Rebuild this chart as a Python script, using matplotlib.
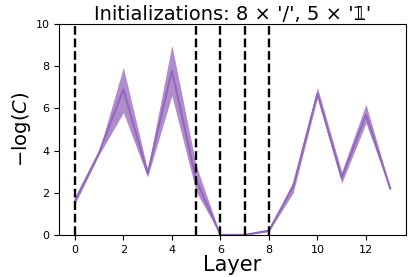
import matplotlib
matplotlib.use("Agg")
import matplotlib.pyplot as plt
import numpy as np

layers = np.arange(14)
mean_vals = [1.6, 3.9, 6.9, 2.9, 7.8, 2.6, 0.0, 0.0, 0.2, 2.3, 6.7, 2.7, 5.7, 2.2]
low_vals = [1.45, 3.8, 5.8, 2.75, 6.6, 2.05, 0.0, 0.0, 0.15, 2.0, 6.5, 2.45, 5.3, 2.15]
high_vals = [1.8, 4.0, 7.95, 3.1, 9.0, 3.3, 0.0, 0.0, 0.25, 2.55, 7.0, 3.0, 6.2, 2.25]
marked_layers = [0, 5, 6, 7, 8]

fig, ax = plt.subplots(figsize=(4.16, 2.77), dpi=100)

ax.fill_between(layers, low_vals, high_vals, color='#9467bd', alpha=0.75, linewidth=0)
ax.plot(layers, mean_vals, color='#9467bd', lw=1.5)
for l in marked_layers:
    ax.axvline(l, color='k', ls='--', lw=1.7)

ax.set_ylim(0, 10)
ax.set_xticks([0, 2, 4, 6, 8, 10, 12])
ax.set_yticks([0, 2, 4, 6, 8, 10])
ax.tick_params(labelsize=8)
ax.set_xlabel("Layer", fontsize=15, labelpad=0)
ax.set_ylabel(r"$-\log(C)$", fontsize=14, labelpad=2)
ax.set_title("Initializations: 8 × '/', 5 × '𝟙'", fontsize=14, pad=3)

fig.subplots_adjust(left=0.142, right=0.976, top=0.913, bottom=0.152)
fig.savefig("out.png")
